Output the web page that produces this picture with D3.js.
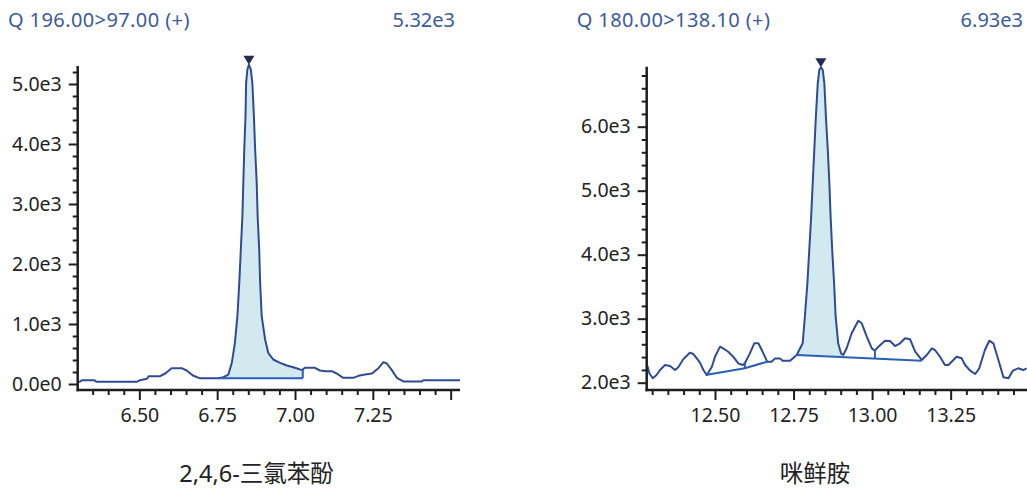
<!DOCTYPE html>
<html>
<head>
<meta charset="utf-8">
<script src="https://cdn.jsdelivr.net/npm/d3@7"></script>
<style>
  html, body { margin: 0; padding: 0; background: #fff; }
  svg { display: block; font-family: "Noto Sans", "Noto Sans CJK SC", sans-serif; }
</style>
</head>
<body>
<div id="chart"></div>
<script>
// --- left panel: 2,4,6-三氯苯酚, Q 196.00>97.00
const leftTitle = "Q 196.00>97.00 (+)";
const leftMax = "5.32e3";
const leftName = "2,4,6-三氯苯酚";
const leftRT = [6.306, 6.317, 6.355, 6.363, 6.492, 6.502, 6.524, 6.531, 6.567, 6.583, 6.604, 6.636, 6.652, 6.672,
  6.693, 6.754, 6.770, 6.786, 6.797, 6.807, 6.815, 6.821, 6.826, 6.831, 6.834, 6.837, 6.841, 6.843, 6.847, 6.852,
  6.858, 6.863, 6.868, 6.872, 6.877, 6.880, 6.885, 6.888, 6.893, 6.904, 6.914, 6.930, 6.952, 6.974, 7.000, 7.022,
  7.032, 7.064, 7.080, 7.097, 7.118, 7.134, 7.155, 7.187, 7.204, 7.225, 7.247, 7.268, 7.284, 7.295, 7.311, 7.327,
  7.348, 7.407, 7.412, 7.530];
const leftCounts = [30, 64, 64, 36, 36, 64, 86, 131, 131, 175, 264, 264, 225, 142,
  97, 97, 114, 158, 353, 687, 1130, 1687, 2242, 2797, 3353, 3908, 4463, 5020, 5242, 5320,
  5242, 5020, 4463, 3908, 3353, 2797, 2242, 1687, 1130, 742, 520, 408, 353, 308, 270, 231,
  270, 270, 225, 214, 214, 175, 103, 103, 136, 158, 175, 264, 364, 342, 231, 103,
  42, 42, 64, 64];
const leftBaseRT = [6.754, 7.025];
const leftBaseCounts = [97, 97];
const leftApex = [6.852, 5320];
const leftYMajor = [0, 1000, 2000, 3000, 4000, 5000];
const leftYLabels = ["0.0e0", "1.0e3", "2.0e3", "3.0e3", "4.0e3", "5.0e3"];
const leftXMajor = [6.50, 6.75, 7.00, 7.25, 7.50];
const leftXLabels = ["6.50", "6.75", "7.00", "7.25", ""];

// --- right panel: 咪鲜胺, Q 180.00>138.10
const rightTitle = "Q 180.00>138.10 (+)";
const rightMax = "6.93e3";
const rightName = "咪鲜胺";
const rightRT = [12.285, 12.291, 12.302, 12.314, 12.325, 12.341, 12.357, 12.373, 12.383, 12.399, 12.420, 12.431,
  12.442, 12.452, 12.463, 12.474, 12.490, 12.500, 12.516, 12.526, 12.542, 12.558, 12.574, 12.588, 12.595, 12.611,
  12.625, 12.638, 12.654, 12.666, 12.680, 12.691, 12.707, 12.715, 12.739, 12.760, 12.779, 12.786, 12.794, 12.800,
  12.806, 12.811, 12.816, 12.821, 12.827, 12.832, 12.837, 12.843, 12.848, 12.853, 12.859, 12.864, 12.868, 12.873,
  12.879, 12.884, 12.892, 12.901, 12.908, 12.919, 12.935, 12.956, 12.967, 12.983, 12.999, 13.009, 13.020, 13.041,
  13.057, 13.073, 13.089, 13.105, 13.121, 13.137, 13.158, 13.174, 13.190, 13.200, 13.216, 13.232, 13.243, 13.269,
  13.285, 13.296, 13.312, 13.328, 13.341, 13.359, 13.373, 13.386, 13.402, 13.418, 13.434, 13.448, 13.465, 13.481,
  13.492];
const rightCounts = [2261, 2147, 2069, 2120, 2198, 2277, 2261, 2198, 2240, 2366, 2469, 2448,
  2381, 2313, 2198, 2120, 2250, 2406, 2563, 2537, 2484, 2406, 2303, 2277, 2303, 2459,
  2616, 2616, 2459, 2328, 2328, 2380, 2380, 2344, 2344, 2433, 2616, 3031, 3553, 4073,
  4594, 5116, 5636, 6156, 6678, 6886, 6930, 6886, 6678, 6156, 5636, 5116, 4594, 4073,
  3553, 3031, 2616, 2459, 2433, 2538, 2772, 2969, 2928, 2719, 2537, 2500, 2563, 2656,
  2652, 2573, 2616, 2694, 2678, 2484, 2355, 2433, 2537, 2511, 2406, 2277, 2277, 2406,
  2381, 2277, 2188, 2136, 2225, 2511, 2656, 2616, 2355, 2084, 2069, 2188, 2225, 2198,
  2225];
// integration baselines (small peaks, then main peak), drop lines
const rightBaseRT = [[12.470, 12.595, 12.666], [12.760, 13.158]];
const rightBaseCounts = [[2120, 2225, 2328], [2433, 2344]];
const rightDropRT = [12.595, 13.009];
const rightFillRT = [12.760, 12.903];
const rightApex = [12.837, 6930];
const rightYMajor = [2000, 3000, 4000, 5000, 6000];
const rightYLabels = ["2.0e3", "3.0e3", "4.0e3", "5.0e3", "6.0e3"];
const rightXMajor = [12.50, 12.75, 13.00, 13.25];
const rightXLabels = ["12.50", "12.75", "13.00", "13.25"];

const W = 1027, H = 489;
const colTrace = "#2e4b93", colBase = "#2a60b4", colFill = "#d3e9f0",
      colMark = "#252b55", colTitle = "#3b5a9d", colAxis = "#1e1e1e";

const svg = d3.select("#chart").append("svg")
  .attr("width", W).attr("height", H);

function drawPanel(cfg) {
  const { id, x, y, rt, counts, yMajor, yLabels, yMinorStep, xMajor, xLabels } = cfg;
  const g = svg.append("g").attr("class", id);
  const [x0, x1] = x.range();
  const [yb, yt] = y.range();

  g.append("clipPath").attr("id", "clip-" + id)
    .append("rect").attr("x", x0).attr("y", 0).attr("width", x1 - x0).attr("height", yb);

  const pts = rt.map((t, i) => ({ t, v: counts[i] }));

  // baseline interpolation for the filled peak
  const baseAt = d3.scaleLinear().domain(cfg.baseRT).range(cfg.baseCounts);
  const [f0, f1] = cfg.fillRT;
  const valAt = t => {
    const i = d3.bisector(d => d.t).left(pts, t);
    const a = pts[Math.max(0, i - 1)], b = pts[Math.min(pts.length - 1, i)];
    if (a.t === b.t) return a.v;
    return a.v + (b.v - a.v) * (t - a.t) / (b.t - a.t);
  };
  const fillPts = [{ t: f0, v: valAt(f0) }]
    .concat(pts.filter(d => d.t > f0 && d.t < f1))
    .concat([{ t: f1, v: valAt(f1) }]);

  const plot = g.append("g").attr("clip-path", `url(#clip-${id})`);

  plot.append("path")
    .datum(fillPts)
    .attr("fill", colFill)
    .attr("d", d3.area().x(d => x(d.t)).y0(d => y(baseAt(d.t))).y1(d => y(d.v)));

  plot.append("path")
    .datum(pts)
    .attr("fill", "none")
    .attr("stroke", colTrace)
    .attr("stroke-width", 2)
    .attr("stroke-linejoin", "round")
    .attr("d", d3.line().x(d => x(d.t)).y(d => y(d.v)));

  // integration baselines
  cfg.baselines.forEach(b => {
    plot.append("path")
      .datum(b)
      .attr("fill", "none")
      .attr("stroke", colBase)
      .attr("stroke-width", 2)
      .attr("d", d3.line().x(d => x(d[0])).y(d => y(d[1])));
  });
  // drop lines
  cfg.drops.forEach(d => {
    plot.append("line")
      .attr("x1", x(d.t)).attr("x2", x(d.t))
      .attr("y1", y(d.base)).attr("y2", y(valAt(d.t)))
      .attr("stroke", colBase).attr("stroke-width", 2);
  });

  // apex marker
  const ax = x(cfg.apex[0]), ay = y(cfg.apex[1]);
  g.append("path")
    .attr("d", `M${ax - 5.5},${ay - 9}L${ax + 5.5},${ay - 9}L${ax},${ay}Z`)
    .attr("fill", colMark);

  // y axis
  const yMinor = d3.range(Math.ceil(y.domain()[0] / yMinorStep) * yMinorStep, y.domain()[1], yMinorStep)
    .filter(v => !yMajor.includes(v));
  const yAx = g.append("g").attr("transform", `translate(${x0},0)`);
  yAx.call(d3.axisLeft(y).tickValues(yMajor).tickSize(9).tickPadding(7)
    .tickFormat((d, i) => yLabels[i]));
  g.append("g").attr("transform", `translate(${x0},0)`)
    .call(d3.axisLeft(y).tickValues(yMinor).tickSize(5).tickFormat(""));

  // x axis
  const xMinor = d3.range(Math.ceil(x.domain()[0] * 20), Math.floor(x.domain()[1] * 20) + 1)
    .map(k => k / 20).filter(v => !xMajor.some(m => Math.abs(m - v) < 1e-6));
  const xAx = g.append("g").attr("transform", `translate(0,${yb})`);
  xAx.call(d3.axisBottom(x).tickValues(xMajor).tickSize(10).tickPadding(8)
    .tickFormat((d, i) => xLabels[i]));
  g.append("g").attr("transform", `translate(0,${yb})`)
    .call(d3.axisBottom(x).tickValues(xMinor).tickSize(5).tickFormat(""));

  g.selectAll(".domain").remove();
  g.selectAll(".tick line").attr("stroke", colAxis).attr("stroke-width", 2);
  g.selectAll(".tick text").attr("fill", "#222").style("font-size", "19.5px")
    .style("font-family", "'Noto Sans', sans-serif");

  g.append("line").attr("x1", x0).attr("x2", x0).attr("y1", yt).attr("y2", yb + 1.2)
    .attr("stroke", colAxis).attr("stroke-width", 2.5);
  g.append("line").attr("x1", x0 - 1.2).attr("x2", x1).attr("y1", yb).attr("y2", yb)
    .attr("stroke", colAxis).attr("stroke-width", 2.5);

  // header
  g.append("text").attr("x", cfg.titleX).attr("y", 27)
    .attr("fill", colTitle).style("font-size", "20px").style("letter-spacing", "0.4px")
    .text(cfg.title);
  g.append("text").attr("x", cfg.maxX).attr("y", 27).attr("text-anchor", "end")
    .attr("fill", colTitle).style("font-size", "20px").text(cfg.maxLabel);

  // compound name
  g.append("text").attr("x", cfg.nameX).attr("y", 482).attr("text-anchor", "middle")
    .attr("fill", "#222").style("font-size", "23.5px")
    .style("font-family", "'Noto Sans', 'Noto Sans CJK SC', sans-serif")
    .text(cfg.name);
}

const xL = d3.scaleLinear().domain([6.302, 7.530]).range([77.7, 460]);
const yL = d3.scaleLinear().domain([-100, 5300]).range([390, 66]);
drawPanel({
  id: "left", x: xL, y: yL, rt: leftRT, counts: leftCounts,
  yMajor: leftYMajor, yLabels: leftYLabels, yMinorStep: 200,
  xMajor: leftXMajor, xLabels: leftXLabels,
  baseRT: leftBaseRT, baseCounts: leftBaseCounts, fillRT: leftBaseRT,
  baselines: [leftBaseRT.map((t, i) => [t, leftBaseCounts[i]])],
  drops: [{ t: leftBaseRT[1], base: leftBaseCounts[1] }],
  apex: leftApex,
  title: leftTitle, maxLabel: leftMax, titleX: 8, maxX: 455,
  name: leftName, nameX: 256.5
});

const xR = d3.scaleLinear().domain([12.2826, 13.493]).range([646.7, 1027]);
const yR = d3.scaleLinear().domain([1886, 6937.5]).range([390, 66.7]);
const mainBase = d3.scaleLinear().domain(rightBaseRT[1]).range(rightBaseCounts[1]);
const smallBase = d3.scaleLinear().domain(rightBaseRT[0]).range(rightBaseCounts[0]);
drawPanel({
  id: "right", x: xR, y: yR, rt: rightRT, counts: rightCounts,
  yMajor: rightYMajor, yLabels: rightYLabels, yMinorStep: 200,
  xMajor: rightXMajor, xLabels: rightXLabels,
  baseRT: rightBaseRT[1], baseCounts: rightBaseCounts[1], fillRT: rightFillRT,
  baselines: rightBaseRT.map((ts, j) => ts.map((t, i) => [t, rightBaseCounts[j][i]])),
  drops: [{ t: rightDropRT[0], base: smallBase(rightDropRT[0]) },
          { t: rightDropRT[1], base: mainBase(rightDropRT[1]) }],
  apex: rightApex,
  title: rightTitle, maxLabel: rightMax, titleX: 576.7, maxX: 1023,
  name: rightName, nameX: 815
});
</script>
</body>
</html>
